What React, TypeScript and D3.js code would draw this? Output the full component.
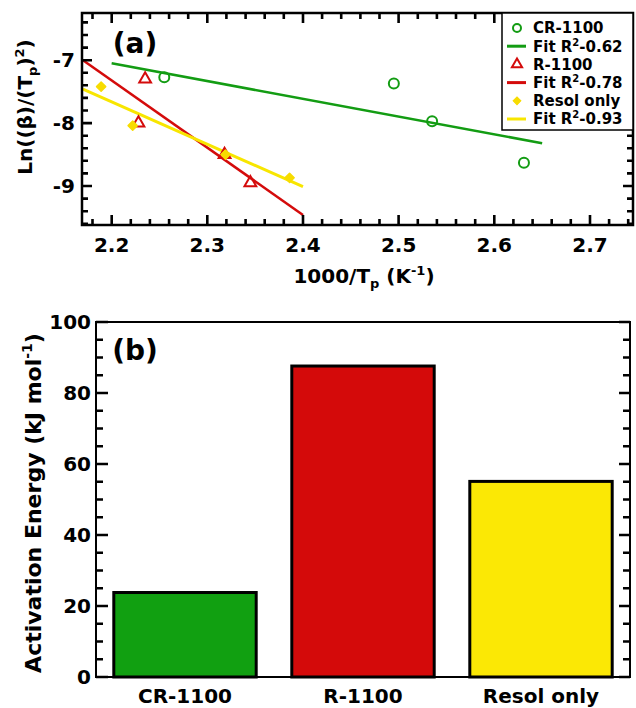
import React from "react";
import * as d3 from "d3";

// ---- Panel (a) data ----
const crX = [2.255, 2.495, 2.535, 2.631];
const crY = [-7.27, -7.37, -7.97, -8.63];
const crFitX = [2.2, 2.65];
const crFitY = [-7.05, -8.32];

const rX = [2.235, 2.228, 2.318, 2.345];
const rY = [-7.3, -8.0, -8.5, -8.95];
const rFitX = [2.17, 2.4];
const rFitY = [-7.0, -9.46];

const resX = [2.189, 2.222, 2.319, 2.386];
const resY = [-7.42, -8.04, -8.5, -8.87];
const resFitX = [2.17, 2.4];
const resFitY = [-7.46, -9.01];

const aXTicks = [2.2, 2.3, 2.4, 2.5, 2.6, 2.7];
const aYTicks = [-7, -8, -9];

const legendLabels = ["CR-1100", "Fit R²-0.62", "R-1100", "Fit R²-0.78", "Resol only", "Fit R²-0.93"];

// ---- Panel (b) data ----
const categories = ["CR-1100", "R-1100", "Resol only"];
const energies = [23.8, 87.6, 55.1];
const bYTicks = [0, 20, 40, 60, 80, 100];

const GREEN = "#139c13";
const RED = "#d40b0b";
const YELLOW = "#f8e600";
const DIAMOND = "#f7dc00";
const BAR_COLORS = ["#11a011", "#d40a0a", "#fbe805"];
const FONT = "'DejaVu Sans', sans-serif";

export default function App() {
  // panel a geometry
  const aL = 82, aR = 633, aT = 13, aB = 225;
  const xA = d3.scaleLinear().domain([2.169, 2.745]).range([aL, aR]);
  const yA = d3.scaleLinear().domain([-9.62, -6.25]).range([aB, aT]);
  const xMinor = d3.range(2.18, 2.745, 0.02).map((v) => +v.toFixed(2));
  const yMinor = d3.range(-9.6, -6.25, 0.2).map((v) => +v.toFixed(1));

  const lineGen = d3.line<[number, number]>().x((d) => xA(d[0])).y((d) => yA(d[1]));
  const fit = (xs: number[], ys: number[]) => lineGen(xs.map((x, i) => [x, ys[i]] as [number, number])) || "";

  const tri = d3.symbol().type(d3.symbolTriangle).size(60)() || "";
  const dia = d3.symbol().type(d3.symbolSquare).size(42)() || "";

  // panel b geometry
  const bL = 96, bR = 630, bT = 322, bB = 677;
  const xB = d3.scaleBand().domain(categories).range([bL, bR]).paddingInner(0.2).paddingOuter(0.1);
  const yB = d3.scaleLinear().domain([0, 100]).range([bB, bT]);
  const bMinor = d3.range(0, 101, 5);

  const legY0 = 28, legStep = 18.2;

  const tickSegs: string[] = [];
  xMinor.forEach((v) => {
    const major = aXTicks.some((t) => Math.abs(t - v) < 1e-6);
    const len = major ? 10 : 6;
    const x = xA(v).toFixed(1);
    tickSegs.push(`M${x},${aB}V${aB - len}`);
    tickSegs.push(`M${x},${aT}V${aT + len}`);
  });
  yMinor.forEach((v) => {
    const major = aYTicks.some((t) => Math.abs(t - v) < 1e-6);
    const len = major ? 10 : 6;
    const y = yA(v).toFixed(1);
    tickSegs.push(`M${aL},${y}H${aL + len}`);
    tickSegs.push(`M${aR},${y}H${aR - len}`);
  });
  bMinor.forEach((v) => {
    const major = v % 20 === 0;
    const y = yB(v).toFixed(1);
    tickSegs.push(`M${bL},${y}H${bL + (major ? 12 : 7)}`);
    tickSegs.push(`M${bR},${y}H${bR - (major ? 11 : 7)}`);
  });

  return (
    <svg width={636} height={708} style={{ position: "absolute", left: 0, top: 0, background: "#fff" }} fontFamily={FONT} fontWeight="bold">
      <defs>
        <clipPath id="clipA"><rect x={aL} y={aT} width={aR - aL} height={aB - aT} /></clipPath>
      </defs>
      {/* ===== Panel (a) ===== */}
      <g clipPath="url(#clipA)">
        <path d={fit(crFitX, crFitY)} stroke={GREEN} strokeWidth={2.5} fill="none" />
        <path d={fit(rFitX, rFitY)} stroke={RED} strokeWidth={2.5} fill="none" />
        <path d={fit(resFitX, resFitY)} stroke={YELLOW} strokeWidth={3} fill="none" />
        {crX.map((x, i) => (
          <circle key={"c" + i} cx={xA(x)} cy={yA(crY[i])} r={5} fill="none" stroke={GREEN} strokeWidth={2} />
        ))}
        {rX.map((x, i) => (
          <path key={"t" + i} d={tri} transform={`translate(${xA(x)},${yA(rY[i])})`} fill="none" stroke={RED} strokeWidth={2} />
        ))}
        {resX.map((x, i) => (
          <path key={"d" + i} d={dia} transform={`translate(${xA(x)},${yA(resY[i])}) rotate(45)`} fill={DIAMOND} stroke={DIAMOND} strokeWidth={1.5} strokeLinejoin="round" />
        ))}
      </g>

      {/* ===== Panel (b) bars ===== */}
      {categories.map((c, i) => (
        <rect key={"bar" + c} x={xB(c)} y={yB(energies[i])} width={xB.bandwidth()} height={yB(0) - yB(energies[i])} fill={BAR_COLORS[i]} stroke="#000" strokeWidth={3} />
      ))}

      <path d={tickSegs.join("")} stroke="#000" strokeWidth={2.6} fill="none" strokeLinecap="butt" />

      <rect x={aL} y={aT} width={aR - aL} height={aB - aT} fill="none" stroke="#000" strokeWidth={2.5} />
      {aXTicks.map((t) => (
        <text key={"xl" + t} x={xA(t)} y={252} textAnchor="middle" fontSize={20}>{t.toFixed(1)}</text>
      ))}
      {aYTicks.map((t) => (
        <text key={"ylab" + t} x={75} y={yA(t)} dy="0.36em" textAnchor="end" fontSize={20}>{t}</text>
      ))}
      <text x={135} y={43} dy="0.36em" textAnchor="middle" fontSize={28}>(a)</text>
      <text x={364} y={283} textAnchor="middle" fontSize={20}>
        1000/T<tspan fontSize={13} dy={5}>p</tspan><tspan dy={-5}> (K</tspan><tspan fontSize={13} dy={-8}>-1</tspan><tspan dy={8}>)</tspan>
      </text>
      <text transform={`translate(32,107) rotate(-90)`} textAnchor="middle" fontSize={20}>
        Ln((β)/(T<tspan fontSize={13} dy={5}>p</tspan><tspan dy={-5}>)</tspan><tspan fontSize={13} dy={-8}>2</tspan><tspan dy={8}>)</tspan>
      </text>

      {/* legend */}
      <rect x={502} y={aT} width={aR - 502} height={117} fill="#fff" stroke="#000" strokeWidth={1.5} />
      {legendLabels.map((lab, i) => {
        const y = legY0 + i * legStep;
        const color = i < 2 ? GREEN : i < 4 ? RED : YELLOW;
        let sym: React.ReactNode = null;
        if (i % 2 === 1) sym = <path d={`M507,${y}H526`} stroke={color} strokeWidth={3} fill="none" />;
        else if (i === 0) sym = <circle cx={517} cy={y} r={4} fill="none" stroke={GREEN} strokeWidth={2} />;
        else if (i === 2) sym = <path d={d3.symbol().type(d3.symbolTriangle).size(45)() || ""} transform={`translate(517,${y})`} fill="none" stroke={RED} strokeWidth={2} />;
        else sym = <path d={d3.symbol().type(d3.symbolSquare).size(30)() || ""} transform={`translate(517,${y}) rotate(45)`} fill={DIAMOND} stroke={DIAMOND} strokeWidth={1} />;
        const parts = lab.split("²");
        return (
          <g key={"lg" + i}>
            {sym}
            <text x={533} y={y} dy="0.36em" fontSize={15}>
              {parts.length > 1 ? (
                <>
                  {parts[0]}<tspan fontSize={10} dy={-6}>2</tspan><tspan dy={6}>{parts[1]}</tspan>
                </>
              ) : lab}
            </text>
          </g>
        );
      })}

      {/* ===== Panel (b) axes ===== */}
      <rect x={bL} y={bT} width={bR - bL} height={bB - bT} fill="none" stroke="#000" strokeWidth={2} />
      {bYTicks.map((t) => (
        <text key={"byl" + t} x={91} y={yB(t)} dy="0.36em" textAnchor="end" fontSize={20}>{t}</text>
      ))}
      {categories.map((c) => (
        <text key={"bxl" + c} x={(xB(c) || 0) + xB.bandwidth() / 2} y={703} textAnchor="middle" fontSize={20}>{c}</text>
      ))}
      <text x={135} y={350} dy="0.36em" textAnchor="middle" fontSize={28}>(b)</text>
      <text transform={`translate(41,503) rotate(-90)`} textAnchor="middle" fontSize={22}>
        Activation Energy (kJ mol<tspan fontSize={14} dy={-9}>-1</tspan><tspan dy={9}>)</tspan>
      </text>
    </svg>
  );
}
